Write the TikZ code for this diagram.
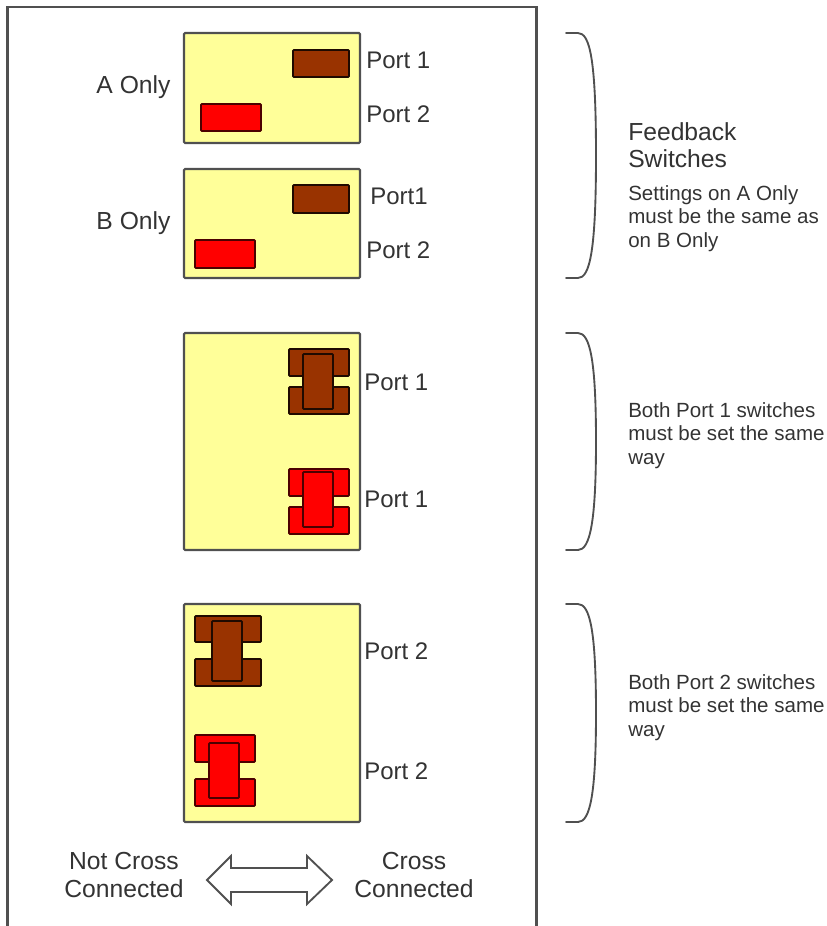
\documentclass[tikz,border=0pt]{standalone}
\usepackage{fontspec}
\setmainfont{Liberation Sans}
\definecolor{panelyellow}{HTML}{FFFF99}
\definecolor{swbrown}{HTML}{993300}
\definecolor{swred}{HTML}{FF0000}
\definecolor{edgegray}{HTML}{505050}
\definecolor{inktext}{HTML}{333333}
\newcommand{\bx}[6][]{\path[#1] (#3,#4) rectangle (#5,#6) coordinate (#2);}
\tikzset{
  x=0.75pt,y=-0.75pt,
  panel/.style={fill=panelyellow,draw=edgegray,line width=1.6pt,rounded corners=0.8pt},
  brownsw/.style={fill=swbrown,draw=black!80!swbrown,line width=1.3pt,rounded corners=0.6pt},
  redsw/.style={fill=swred,draw=black!70!swred,line width=1.3pt,rounded corners=0.6pt},
  portlabel/.style={text=inktext,font=\fontsize{18pt}{20pt}\selectfont,anchor=west,inner sep=0pt},
  biglabel/.style={text=inktext,font=\fontsize{18.5pt}{20.8pt}\selectfont,align=center,inner sep=0pt},
  notehead/.style={text=inktext,font=\fontsize{18.5pt}{20.4pt}\selectfont,align=left,anchor=north west,inner sep=0pt},
  notetext/.style={text=inktext,font=\fontsize{15.4pt}{17.6pt}\selectfont,align=left,anchor=north west,inner sep=0pt},
  bracket/.style={draw=edgegray,line width=1.4pt,line cap=round},
}
\begin{document}
\begin{tikzpicture}
\useasboundingbox (0,0) rectangle (826,926);
\draw[edgegray,line width=1.6pt] (7.5,930) -- (7.5,7) -- (536.5,7) -- (536.5,930);
% panels
\bx[panel]{p1}{184}{33}{360}{143}
\bx[panel]{p2}{184}{169}{360}{278}
\bx[panel]{p3}{184}{333}{360}{550}
\bx[panel]{p4}{184}{604}{360}{822}
% simple switches
\bx[brownsw]{s1}{293}{50}{349}{77}
\bx[redsw]{s2}{201}{104}{261}{131}
\bx[brownsw]{s3}{293}{185}{349}{213}
\bx[redsw]{s4}{195}{240}{255}{268}
% cross switches, port 1
\bx[brownsw]{a1}{289}{349}{349}{376}
\bx[brownsw]{a2}{289}{387}{349}{414}
\bx[brownsw]{a3}{303}{354}{333}{409}
\bx[redsw]{b1}{289}{469}{349}{496}
\bx[redsw]{b2}{289}{507}{349}{534}
\bx[redsw]{b3}{303}{472}{333}{527}
% cross switches, port 2
\bx[brownsw]{c1}{195}{616}{261}{642}
\bx[brownsw]{c2}{195}{659}{261}{686}
\bx[brownsw]{c3}{212}{621}{242}{681}
\bx[redsw]{d1}{195}{735}{255}{762}
\bx[redsw]{d2}{195}{779}{255}{806}
\bx[redsw]{d3}{209}{743}{239}{798}
% labels
\node[biglabel] (aonly) at (133.5,87) {A Only};
\node[biglabel] (bonly) at (133.5,223) {B Only};
\node[portlabel] (l1) at (366,60) {Port 1};
\node[portlabel] (l2) at (366,114) {Port 2};
\node[portlabel] (l3) at (370,196) {Port1};
\node[portlabel] (l4) at (366,250) {Port 2};
\node[portlabel] (l5) at (364,382) {Port 1};
\node[portlabel] (l6) at (364,499) {Port 1};
\node[portlabel] (l7) at (364,651) {Port 2};
\node[portlabel] (l8) at (364,771) {Port 2};
\node[biglabel] (ncc) at (124,875) {Not Cross\\Connected};
\node[biglabel] (cc) at (414,875) {Cross\\Connected};
% double arrow
\draw[fill=white,draw=edgegray,line width=1.4pt,line join=miter]
  (207,880) -- (231,856) -- (231,868) -- (307,868) -- (307,856) -- (332,880)
  -- (307,904) -- (307,892) -- (231,892) -- (231,904) -- cycle;
% brackets
\draw[bracket] (566,33) -- (578,33) .. controls (590,33) and (596,60) .. (596,155.5) .. controls (596,250) and (590,278) .. (578,278) -- (566,278);
\draw[bracket] (566,333) -- (578,333) .. controls (590,333) and (596,360) .. (596,441.5) .. controls (596,522) and (590,550) .. (578,550) -- (566,550);
\draw[bracket] (566,604) -- (578,604) .. controls (590,604) and (596,631) .. (596,713) .. controls (596,795) and (590,822) .. (578,822) -- (566,822);
% notes
\node[notehead] (fb) at (628,122) {Feedback\\Switches};
\node[notetext] (n1) at (628,185) {Settings on A Only\\must be the same as\\on B Only};
\node[notetext] (n2) at (628,402) {Both Port 1 switches\\must be set the same\\way};
\node[notetext] (n3) at (628,674) {Both Port 2 switches\\must be set the same\\way};
\end{tikzpicture}
\end{document}
